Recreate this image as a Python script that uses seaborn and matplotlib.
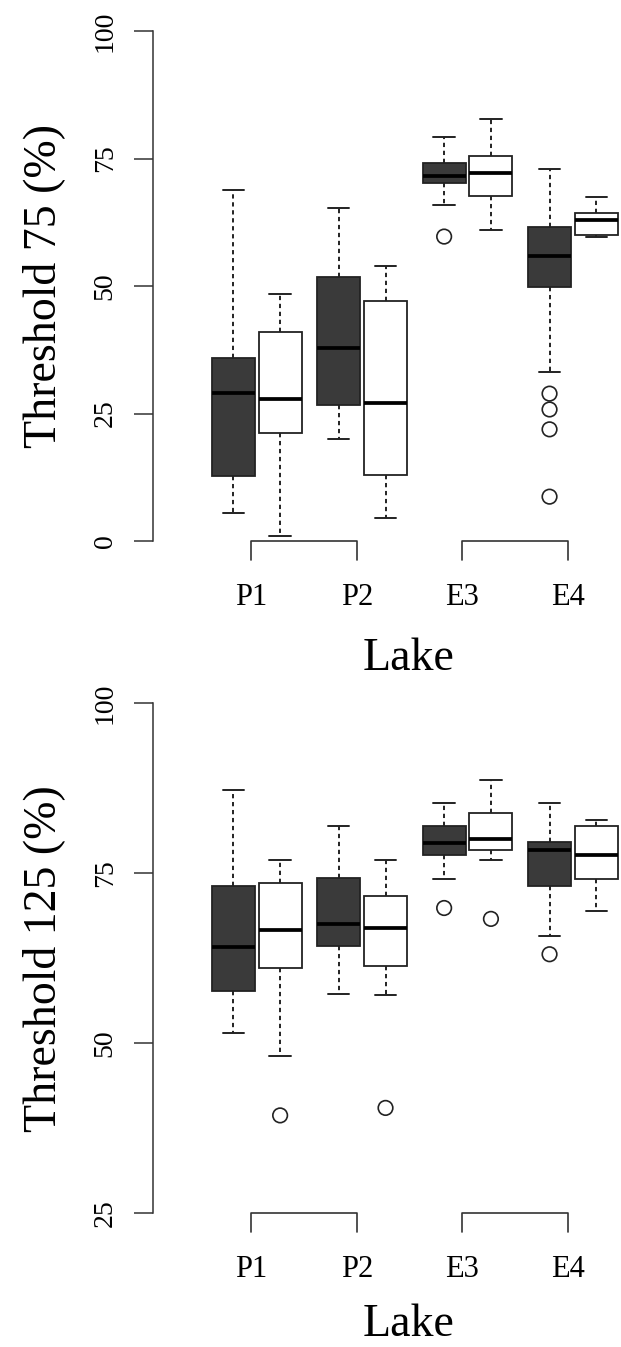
import numpy as np
import pandas as pd
import matplotlib
matplotlib.use("Agg")
import matplotlib.pyplot as plt
import seaborn as sns

LAKES = ["P1", "P2", "E3", "E4"]
GROUPS = ["dark", "light"]

# Threshold 75 - box summaries (one value per lake)
t75_dark_low = [5.4, 20.0, 65.9, 33.2]
t75_dark_q1 = [12.8, 26.6, 70.2, 49.8]
t75_dark_med = [29.1, 37.9, 71.5, 55.9]
t75_dark_q3 = [35.8, 51.8, 74.2, 61.5]
t75_dark_high = [68.9, 65.3, 79.3, 73.0]
t75_light_low = [1.0, 4.6, 60.9, 59.7]
t75_light_q1 = [21.1, 12.9, 67.6, 60.1]
t75_light_med = [27.8, 27.1, 72.1, 63.0]
t75_light_q3 = [41.0, 47.1, 75.4, 64.4]
t75_light_high = [48.5, 53.9, 82.8, 67.4]
t75_out_lake = ["E3", "E4", "E4", "E4", "E4"]
t75_out_group = ["dark", "dark", "dark", "dark", "dark"]
t75_out_value = [59.7, 28.9, 25.8, 21.9, 8.7]

# Threshold 125
t125_dark_low = [51.5, 57.3, 74.2, 65.8]
t125_dark_q1 = [57.7, 64.3, 77.7, 73.2]
t125_dark_med = [64.1, 67.5, 79.4, 78.4]
t125_dark_q3 = [73.2, 74.3, 82.0, 79.6]
t125_dark_high = [87.3, 81.9, 85.3, 85.3]
t125_light_low = [48.2, 57.1, 76.9, 69.4]
t125_light_q1 = [61.1, 61.4, 78.5, 74.2]
t125_light_med = [66.7, 67.0, 80.1, 77.7]
t125_light_q3 = [73.6, 71.7, 83.9, 82.0]
t125_light_high = [76.9, 77.0, 88.7, 82.8]
t125_out_lake = ["P1", "P2", "E3", "E3", "E4"]
t125_out_group = ["light", "light", "dark", "light", "dark"]
t125_out_value = [39.4, 40.5, 69.9, 68.3, 63.1]

DARK = "#3a3a3a"
EDGE = "#222222"
OFFSET = {"dark": -0.222, "light": 0.222}


def build_long(dark, light):
    # five values per box: with linear percentiles they give exactly
    # min / q1 / median / q3 / max
    rows = []
    for group, stats in (("dark", dark), ("light", light)):
        for i, lake in enumerate(LAKES):
            for s in stats:
                rows.append({"lake": lake, "group": group, "value": s[i]})
    return pd.DataFrame(rows)


def draw_panel(ax, df, out_lake, out_group, out_value, ylim, yticks, ylabel,
               xlab_pad, lake_y):
    sns.boxplot(data=df, x="lake", y="value", hue="group", order=LAKES,
                hue_order=GROUPS, palette={"dark": DARK, "light": "white"},
                saturation=1, width=0.888, gap=0.081, whis=(0, 100),
                linewidth=1.3, linecolor=EDGE, legend=False, ax=ax,
                medianprops=dict(linewidth=2.7, color="black"),
                whiskerprops=dict(linestyle=(0, (2.2, 1.9)), color=EDGE,
                                  linewidth=1.4),
                capprops=dict(color=EDGE, linewidth=1.4))

    out_x = [LAKES.index(l) + OFFSET[g] for l, g in zip(out_lake, out_group)]
    sns.scatterplot(x=out_x, y=out_value, marker="o", s=110,
                    facecolors="none", edgecolor=EDGE, linewidth=1.2,
                    ax=ax, zorder=3)

    y0 = yticks[0]
    drop = (ylim[1] - ylim[0]) * 0.034
    for a, b in [(0, 1), (2, 3)]:
        xa, xb = a - 0.05, b - 0.05
        ax.plot([xa, xa, xb, xb], [y0 - drop, y0, y0, y0 - drop],
                color="#333333", lw=1.2, clip_on=False)

    ax.set_xlim(-0.981, 3.456)
    ax.set_ylim(*ylim)
    ax.set_yticks(yticks)
    ax.set_yticklabels([str(t) for t in yticks], rotation=90, va="center")
    ax.set_xticks([i - 0.05 for i in range(len(LAKES))], LAKES)
    ax.tick_params(axis="x", length=0, pad=15.5, labelsize=22,
                   labelcolor="black")
    ax.tick_params(axis="y", length=13.7, width=1.1, color="#333333",
                   pad=12, labelsize=20, labelcolor="black")
    sns.despine(ax=ax, bottom=True)
    ax.spines["left"].set_bounds(yticks[0], yticks[-1])
    ax.spines["left"].set_color("#333333")
    ax.spines["left"].set_linewidth(1.1)

    ax.set_ylabel(ylabel, fontsize=33, va="center", color="black")
    ax.yaxis.set_label_coords(-0.2348, 0.5)
    ax.set_xlabel("Lake", fontsize=33, va="center", color="black")
    ax.xaxis.set_label_coords(0.5467, lake_y)


sns.set_style("ticks")
plt.rcParams["font.family"] = ["Liberation Serif", "DejaVu Serif"]

fig = plt.figure(figsize=(6.21, 13.47), dpi=100)
ax1 = fig.add_axes([0.2469, 0.5832, 0.7531, 0.4089])
ax2 = fig.add_axes([0.2469, 0.0841, 0.7531, 0.4089])

df75 = build_long(
    [t75_dark_low, t75_dark_q1, t75_dark_med, t75_dark_q3, t75_dark_high],
    [t75_light_low, t75_light_q1, t75_light_med, t75_light_q3, t75_light_high])
df125 = build_long(
    [t125_dark_low, t125_dark_q1, t125_dark_med, t125_dark_q3, t125_dark_high],
    [t125_light_low, t125_light_q1, t125_light_med, t125_light_q3, t125_light_high])

draw_panel(ax1, df75, t75_out_lake, t75_out_group, t75_out_value,
           (-4, 104), [0, 25, 50, 75, 100], "Threshold 75 (%)", 15.5, -0.176)
draw_panel(ax2, df125, t125_out_lake, t125_out_group, t125_out_value,
           (22, 103), [25, 50, 75, 100], "Threshold 125 (%)", 13.9, -0.165)

fig.savefig("out.png", dpi=100)
